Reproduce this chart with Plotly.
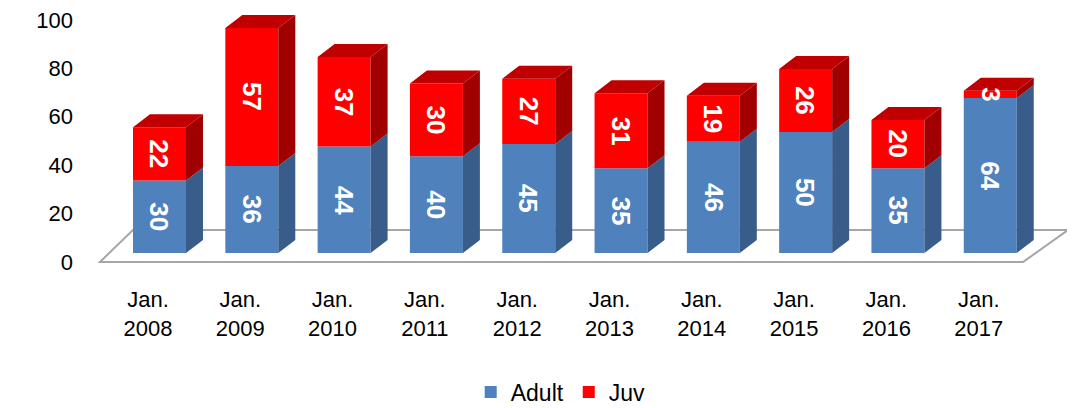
import plotly.graph_objects as go

# ---- data ----
years = ["2008", "2009", "2010", "2011", "2012", "2013", "2014", "2015", "2016", "2017"]
adult = [30, 36, 44, 40, 45, 35, 46, 50, 35, 64]
juv = [22, 57, 37, 30, 27, 31, 19, 26, 20, 3]
tick_labels = ["Jan.<br>" + y for y in years]
y_ticks = [0, 20, 40, 60, 80, 100]

# ---- style constants (pseudo-3D look) ----
BAR_SHIFT = 0.125   # perspective shift of bar fronts relative to category labels
BAR_W = 0.574
BASE = 3.7          # front faces sit slightly above the floor's front edge
DX = 0.184          # depth offset in x units
DY = 5.37           # depth offset in y units
BLUE, BLUE_SIDE = "#4F81BD", "#385D8A"
RED, RED_SIDE, RED_TOP = "#FF0000", "#A00000", "#C00000"
FONT = "Liberation Sans, Arial, sans-serif"

xs = list(range(len(years)))
centers = [i + BAR_SHIFT for i in xs]
adult_base = [BASE] * len(years)
juv_base = [BASE + a for a in adult]

fig = go.Figure()

# front faces
fig.add_trace(go.Bar(x=centers, y=adult, base=adult_base, width=BAR_W, name="Adult",
                     marker=dict(color=BLUE, line=dict(width=0)), hoverinfo="skip"))
fig.add_trace(go.Bar(x=centers, y=juv, base=juv_base, width=BAR_W, name="Juv",
                     marker=dict(color=RED, line=dict(width=0)), hoverinfo="skip"))


def side_polys(bases, heights):
    px, py = [], []
    for c, b, h in zip(centers, bases, heights):
        xr = c + BAR_W / 2
        t = b + h
        px += [xr, xr + DX, xr + DX, xr, xr, None]
        py += [b, b + DY, t + DY, t, b, None]
    return px, py


def top_polys(bases, heights):
    px, py = [], []
    for c, b, h in zip(centers, bases, heights):
        xl, xr = c - BAR_W / 2, c + BAR_W / 2
        t = b + h
        px += [xl, xl + DX, xr + DX, xr, xl, None]
        py += [t, t + DY, t + DY, t, t, None]
    return px, py


for (bases, heights, col) in [(adult_base, adult, BLUE_SIDE), (juv_base, juv, RED_SIDE)]:
    sx, sy = side_polys(bases, heights)
    fig.add_trace(go.Scatter(x=sx, y=sy, mode="lines", fill="toself", fillcolor=col,
                             line=dict(width=0, color=col), showlegend=False, hoverinfo="skip"))
tx, ty = top_polys(juv_base, juv)
fig.add_trace(go.Scatter(x=tx, y=ty, mode="lines", fill="toself", fillcolor=RED_TOP,
                         line=dict(width=0, color=RED_TOP), showlegend=False, hoverinfo="skip"))

# data labels
for c, a, jb, j in zip(centers, adult, juv_base, juv):
    for val, yc in [(a, BASE + a / 2), (j, jb + j / 2)]:
        fig.add_annotation(x=c, y=yc, text=str(val), textangle=90, showarrow=False,
                           font=dict(family=FONT, size=26, color="white", weight="bold"))

# floor
fig.add_shape(type="path", path="M -0.52,0 L 9.48,0 L 9.967,13.2 L -0.163,13.2 Z",
              xref="x", yref="y", layer="below", fillcolor="white",
              line=dict(color="#A6A6A6", width=2))

# page body adds an 8px margin, so the figure is 8px smaller on each axis
fig.update_layout(
    width=1067, height=400,
    margin=dict(l=82, r=0, t=2, b=138, autoexpand=False),
    paper_bgcolor="white", plot_bgcolor="white",
    barmode="overlay",
    font=dict(family=FONT, size=22, color="black"),
    showlegend=True,
    legend=dict(orientation="h", x=0.518, xanchor="center", xref="container",
                y=0.04, yanchor="middle", yref="container",
                font=dict(size=23), traceorder="normal", itemwidth=30),
)
fig.update_xaxes(range=[-0.628, 10.043], tickvals=xs, ticktext=tick_labels,
                 showgrid=False, zeroline=False, showline=False, ticks="",
                 ticklabelstandoff=14, automargin=False, ticklabeloverflow="allow")
fig.update_yaxes(range=[-3.3, 104.1], tickvals=y_ticks, showgrid=False, zeroline=False,
                 showline=False, ticks="", ticklabelstandoff=16, automargin=False,
                 ticklabeloverflow="allow")

fig.write_html("out.html")
